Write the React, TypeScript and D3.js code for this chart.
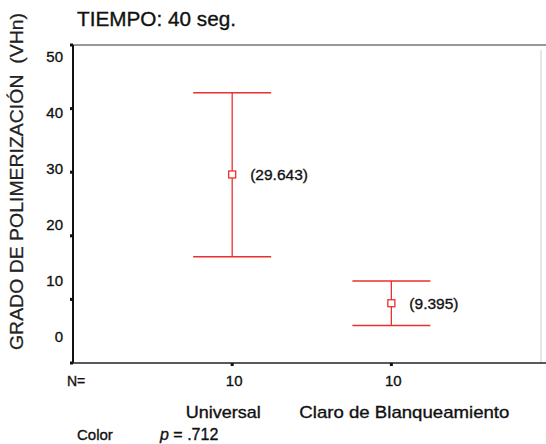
import * as React from "react";
import { scaleLinear, range } from "d3";

// data
const categories = ["Universal", "Claro de Blanqueamiento"];
const means = [29.643, 9.395];
const upper = [42.5, 12.9];
const lower = [16.7, 5.9];
const counts = [10, 10];
const yTicks = [0, 10, 20, 30, 40, 50];

const W = 546;
const H = 444;
const left = 73;
const right = 541;
const top = 45;
const bottom = 363;
const red = "#e8312f";
const ink = "#111";
const font = "Liberation Sans, Arial, sans-serif";

// scanned text looks a little heavier than plain Arial
const heavy = { fill: ink, stroke: ink, strokeWidth: 0.35 };

export default function App() {
  const y = scaleLinear().domain([0, 50]).range([bottom, top]);
  // the scanned labels sit a bit off their ticks
  const yLabel = scaleLinear().domain([0, 50]).range([337, 57]);
  const x = scaleLinear().domain([0, 2.94]).range([left, right]);
  const capHalf = 39;
  const labelWidths = [75, 210];
  const labelShift = [-9, 13];

  return (
    <svg
      width={W}
      height={H}
      style={{ position: "absolute", left: 0, top: 0, background: "#fff" }}
      fontFamily={font}
    >
      <text x={77} y={26} fontSize={20.5} textLength={159} lengthAdjust="spacingAndGlyphs" {...heavy}>
        TIEMPO: 40 seg.
      </text>
      <text
        transform={`translate(23,181.5) rotate(-90)`}
        textAnchor="middle"
        fontSize={18.5}
        textLength={337}
        lengthAdjust="spacingAndGlyphs"
        style={{ whiteSpace: "pre" }}
        fill="#222"
        stroke="#222"
        strokeWidth={0.25}
      >
        {"GRADO DE POLIMERIZACIÓN  (VHn)"}
      </text>

      {/* frame */}
      <line x1={left} x2={W} y1={top} y2={top} stroke="#333" strokeWidth={1.2} />
      <line x1={right} x2={right} y1={top + 5} y2={bottom} stroke="#ccc" strokeWidth={1} />
      <line x1={left} x2={left} y1={top} y2={bottom} stroke={ink} strokeWidth={2} />
      <line x1={left} x2={W} y1={bottom} y2={bottom} stroke="#222" strokeWidth={1.6} />

      {yTicks.map((t) => (
        <g key={t}>
          <line x1={left - 3} x2={left} y1={y(t)} y2={y(t)} stroke={ink} strokeWidth={3} />
          <text x={63} y={yLabel(t)} dy="0.35em" textAnchor="end" fontSize={15} {...heavy}>
            {t}
          </text>
        </g>
      ))}

      <text x={67} y={386} fontSize={14} {...heavy}>N=</text>

      {range(categories.length).map((i) => {
        const cx = x(i + 1);
        return (
          <g key={categories[i]}>
            <line x1={cx} x2={cx} y1={bottom} y2={bottom + 3} stroke={ink} strokeWidth={3} />
            <text x={cx + 2} y={386} textAnchor="middle" fontSize={15} {...heavy}>
              {counts[i]}
            </text>
            <text
              x={cx + labelShift[i]}
              y={418}
              textAnchor="middle"
              fontSize={17}
              textLength={labelWidths[i]}
              lengthAdjust="spacingAndGlyphs"
              {...heavy}
            >
              {categories[i]}
            </text>
            <line x1={cx} x2={cx} y1={y(upper[i])} y2={y(lower[i])} stroke={red} strokeWidth={1.3} />
            <line x1={cx - capHalf} x2={cx + capHalf} y1={y(upper[i])} y2={y(upper[i])} stroke={red} strokeWidth={1.6} />
            <line x1={cx - capHalf} x2={cx + capHalf} y1={y(lower[i])} y2={y(lower[i])} stroke={red} strokeWidth={1.6} />
            <rect
              x={cx - 3.5}
              y={y(means[i]) - 3.5}
              width={7}
              height={7}
              fill="#fff"
              stroke={red}
              strokeWidth={1.3}
            />
            <text x={cx + 18} y={y(means[i])} dy="0.35em" fontSize={15.5} {...heavy}>
              ({means[i]})
            </text>
          </g>
        );
      })}

      <text x={77} y={440} fontSize={15} {...heavy}>Color</text>
      <text x={160} y={440} fontSize={16} {...heavy}>
        <tspan fontStyle="italic">p</tspan> = .712
      </text>
    </svg>
  );
}
